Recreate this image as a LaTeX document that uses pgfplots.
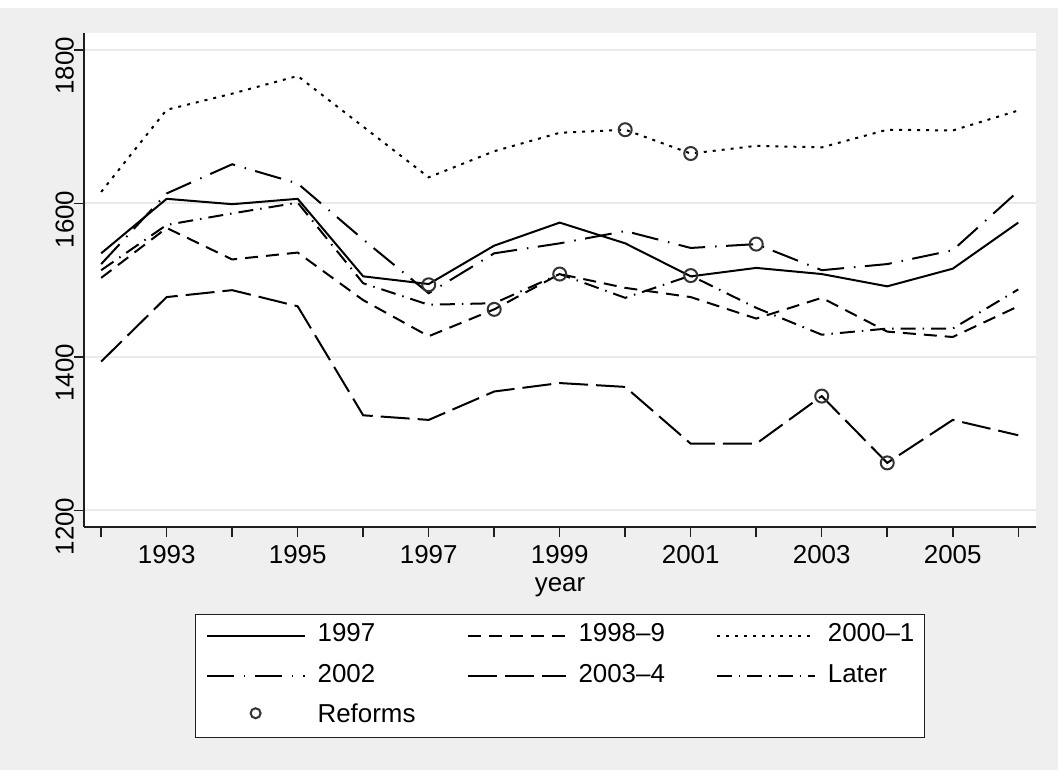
\documentclass[border=0pt]{standalone}
\usepackage{fontspec}
\setmainfont{Liberation Sans}
\usepackage{pgfplots}
\pgfplotsset{compat=1.18}
\definecolor{bg}{RGB}{239,239,239}
\definecolor{gridc}{RGB}{234,234,234}
\definecolor{axc}{RGB}{30,30,30}
\pgfplotsset{reflegend/.style={legend image code/.code={\draw[##1, mark size=5bp] plot coordinates {(49bp,3bp)};}}}
\begin{document}
\begin{tikzpicture}
\fill[bg] (0bp,0bp) rectangle (1058bp,762bp);
\fill[white] (0bp,762bp) rectangle (1058bp,770bp);
\begin{axis}[
  at={(84bp,243bp)}, anchor=south west,
  scale only axis, width=952bp, height=494bp,
  xmin=1991.738, xmax=2006.271, ymin=1178.5, ymax=1822,
  axis background/.style={fill=white},
  axis x line*=bottom, axis y line*=left,
  axis line style={-, line width=1.5bp, color=axc},
  xtick={1992,1993,1994,1995,1996,1997,1998,1999,2000,2001,2002,2003,2004,2005,2006},
  xticklabels={,1993,,1995,,1997,,1999,,2001,,2003,,2005,},
  ytick={1200,1400,1600,1800},
  yticklabels={1200,1400,1600,1800},
  tick align=outside, major tick length=10bp,
  tick style={line width=1.5bp, color=axc},
  ymajorgrids, grid style={line width=2bp, color=gridc},
  tick label style={font=\fontsize{26}{31}\selectfont},
  xticklabel style={anchor=base, yshift=-26bp},
  yticklabel style={rotate=90, anchor=south, inner sep=0pt, xshift=-16bp},
  xlabel={year},
  xlabel style={font=\fontsize{26}{31}\selectfont, at={(axis description cs:0.5,0)}, anchor=base, yshift=-64bp},
  legend columns=3,
  legend cell align=left,
  legend style={at={(0.5,-0.1761)}, anchor=north, draw=axc, line width=1.5bp, fill=white,
    inner xsep=10bp, inner ysep=8.5bp, font=\fontsize{26}{31}\selectfont, row sep=15bp,
    nodes={inner sep=0pt, text height=18.6bp, text depth=6.6bp},
    /tikz/every odd column/.style={column sep=12bp},
    /tikz/every even column/.style={column sep=51bp}},
  legend image code/.code={\draw[#1] (0bp,0bp) -- (98bp,0bp);},
]
\addplot[black, line width=2bp, mark=none] coordinates {
(1992,1535) (1993,1606) (1994,1599) (1995,1606) (1996,1505) (1997,1495) (1998,1545) (1999,1575)
(2000,1548) (2001,1505) (2002,1516) (2003,1508) (2004,1492) (2005,1515) (2006,1575)};
\addlegendentry{1997}
\addplot[black, line width=2bp, mark=none, dash pattern=on 13bp off 8bp] coordinates {
(1992,1503) (1993,1568) (1994,1527) (1995,1536) (1996,1474) (1997,1427) (1998,1462) (1999,1508)
(2000,1490) (2001,1478) (2002,1450) (2003,1477) (2004,1433) (2005,1426) (2006,1466)};
\addlegendentry{1998--9}
\addplot[black, line width=2bp, mark=none, dash pattern=on 3bp off 6bp] coordinates {
(1992,1615) (1993,1722) (1994,1743) (1995,1766) (1996,1700) (1997,1634) (1998,1668) (1999,1692)
(2000,1696) (2001,1665) (2002,1675) (2003,1673) (2004,1696) (2005,1695) (2006,1721)};
\addlegendentry{2000--1}
\addplot[black, line width=2bp, mark=none, dash pattern=on 27bp off 10bp on 1.5bp off 9.5bp] coordinates {
(1992,1521) (1993,1613) (1994,1651) (1995,1626) (1996,1553) (1997,1483) (1998,1535) (1999,1548)
(2000,1564) (2001,1542) (2002,1547) (2003,1513) (2004,1521) (2005,1539) (2006,1616)};
\addlegendentry{2002}
\addplot[black, line width=2bp, mark=none, dash pattern=on 29bp off 8bp] coordinates {
(1992,1394) (1993,1478) (1994,1487) (1995,1466) (1996,1324) (1997,1318) (1998,1355) (1999,1366)
(2000,1361) (2001,1287) (2002,1287) (2003,1349) (2004,1262) (2005,1318) (2006,1298)};
\addlegendentry{2003--4}
\addplot[black, line width=2bp, mark=none, dash pattern=on 15bp off 7bp on 1.5bp off 7bp] coordinates {
(1992,1513) (1993,1572) (1994,1587) (1995,1601) (1996,1496) (1997,1468) (1998,1470) (1999,1508)
(2000,1477) (2001,1506) (2002,1464) (2003,1429) (2004,1437) (2005,1437) (2006,1488)};
\addlegendentry{Later}
\addplot[only marks, mark=o, mark size=6.5bp, mark options={line width=2bp, draw=black!80, solid},
  reflegend] coordinates {
(1997,1494) (1998,1462) (1999,1508) (2000,1696) (2001,1665) (2001,1506) (2002,1547) (2003,1349) (2004,1262)};
\addlegendentry{Reforms}
\end{axis}
\end{tikzpicture}
\end{document}
